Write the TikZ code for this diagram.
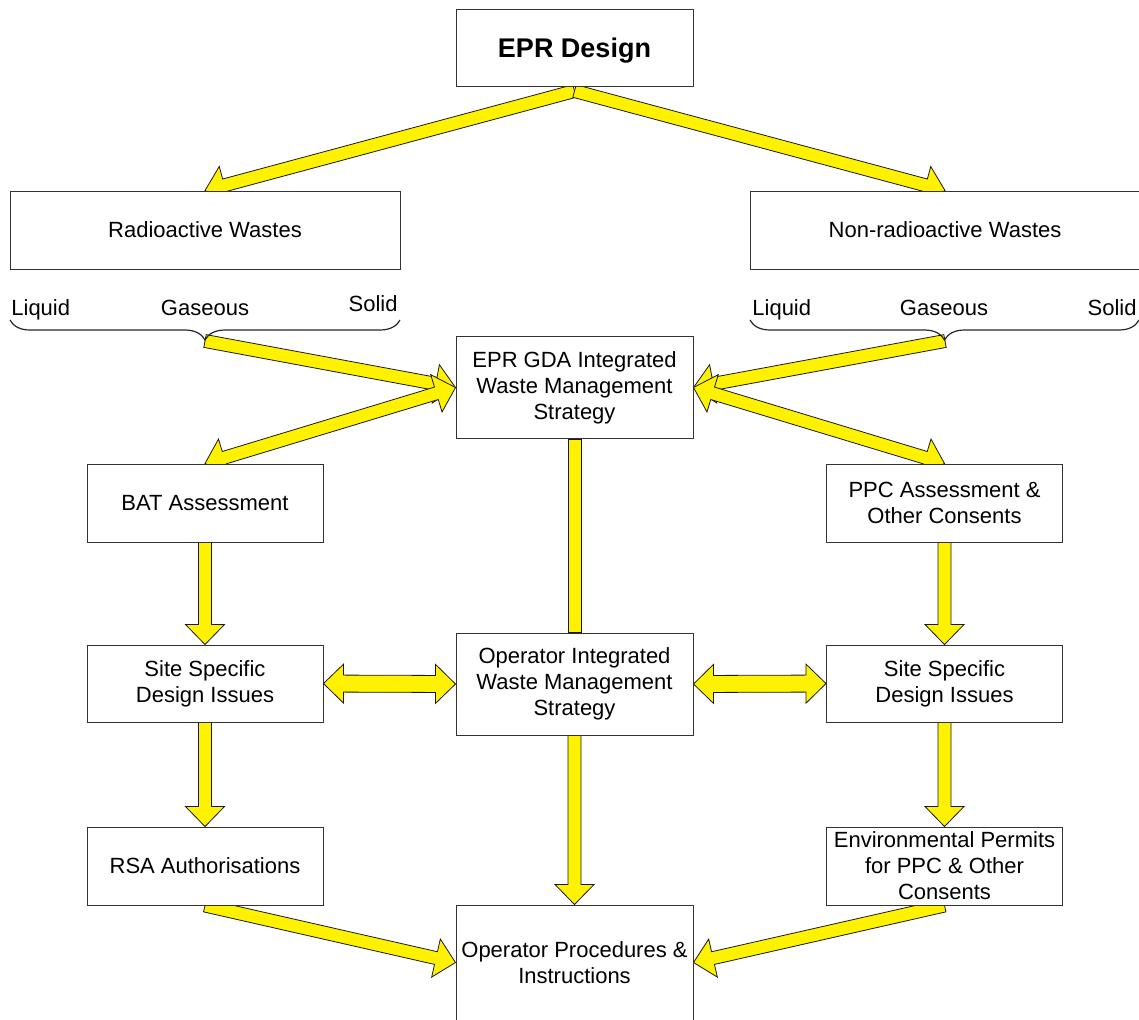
\documentclass[tikz,border=0pt]{standalone}
\usepackage{fontspec}
\setmainfont{Liberation Sans}
\usetikzlibrary{calc,backgrounds,decorations.pathreplacing}

\newcommand{\arrowframe}[2]{%
  \path let \p1=($(#2)-(#1)$), \n1={veclen(\x1,\y1)}, \n2={atan2(\y1,\x1)} in
    \pgfextra{\xdef\arrlen{\n1}\xdef\arrang{\n2}};}
\newcommand{\onehead}[3][3.25pt]{%
  \arrowframe{#2}{#3}%
  \draw[yarrow, shift={(#2)}, rotate=\arrang]
    (0pt,#1) -- ({\arrlen-10pt},#1) -- ({\arrlen-10pt},9.75pt) -- (\arrlen,0pt)
    -- ({\arrlen-10pt},-9.75pt) -- ({\arrlen-10pt},-#1) -- (0pt,-#1) -- cycle;}
\newcommand{\twohead}[3][3.25pt]{%
  \arrowframe{#2}{#3}%
  \draw[yarrow, shift={(#2)}, rotate=\arrang]
    (0pt,0pt) -- (10pt,9.75pt) -- (10pt,#1) -- ({\arrlen-10pt},#1) -- ({\arrlen-10pt},9.75pt)
    -- (\arrlen,0pt) -- ({\arrlen-10pt},-9.75pt) -- ({\arrlen-10pt},-#1) -- (10pt,-#1)
    -- (10pt,-9.75pt) -- cycle;}
\newcommand{\nohead}[3][3.25pt]{%
  \arrowframe{#2}{#3}%
  \draw[yarrow, shift={(#2)}, rotate=\arrang]
    (0pt,#1) -- (\arrlen,#1) -- (\arrlen,-#1) -- (0pt,-#1) -- cycle;}

\begin{document}
\begin{tikzpicture}
[
x=0.5pt, y=-0.5pt,
box/.style={draw=black!80, fill=white, line width=0.5pt, align=center, inner sep=0pt,
  font=\fontsize{11}{13}\selectfont, minimum width=118pt, minimum height=39pt},
tallbox/.style={box, minimum height=51pt},
lbl/.style={inner sep=0pt, font=\fontsize{11}{13}\selectfont},
bracket/.style={draw=black!85, line width=0.6pt, decorate, decoration={brace, mirror, amplitude=10pt}}
]
\tikzset{yarrow/.style={draw=black!90, fill=yellow, line width=0.4pt, line join=miter}}
\useasboundingbox (0,0) rectangle (1139,1019);
\clip (0,0) rectangle (1139,1019);

\node[box, font=\fontsize{13.5}{16}\selectfont\bfseries, text depth=0pt, minimum width=118.5pt, minimum height=38.5pt] (epr) at (574.5,47.5) {EPR Design};
\node[box, minimum width=195pt] (rad) at (205,230) {Radioactive Wastes};
\node[box, minimum width=195pt] (nonrad) at (945,230) {Non-radioactive Wastes};

\node[lbl, anchor=base west] (lliquid) at (11,315) {Liquid};
\node[lbl, anchor=base] (lgaseous) at (205,315) {Gaseous};
\node[lbl, anchor=base east] (lsolid) at (398,311) {Solid};
\node[lbl, anchor=base west] (rliquid) at (752,315) {Liquid};
\node[lbl, anchor=base] (rgaseous) at (944,315) {Gaseous};
\node[lbl, anchor=base east] (rsolid) at (1137,315) {Solid};
\draw[bracket] (10,320) -- (400,320);
\draw[bracket] (750,320) -- (1139,320);
\coordinate (ltip) at (205,341);
\coordinate (rtip) at (945,341);
\coordinate (eprfoot) at (574.5,91);

\node[tallbox, minimum width=118.5pt] (gda) at (574.5,387.5) {EPR GDA Integrated\\Waste Management\\Strategy};
\node[box] (bat) at (205,503) {BAT Assessment};
\node[box] (ppc) at (944.5,503) {PPC Assessment \&\\Other Consents};
\node[box, minimum height=38.5pt] (siteL) at (205,683.5) {Site Specific\\Design Issues};
\node[tallbox, minimum width=118.5pt] (opint) at (574.5,684) {Operator Integrated\\Waste Management\\Strategy};
\node[box, minimum height=38.5pt] (siteR) at (944.5,683.5) {Site Specific\\Design Issues};
\node[box] (rsa) at (205,866) {RSA Authorisations};
\node[box] (env) at (944.5,866) {Environmental Permits\\for PPC \& Other\\Consents};
\node[box, minimum width=118.5pt, minimum height=57.5pt] (opproc) at (574.5,962.5) {Operator Procedures \&\\Instructions};

\begin{scope}[on background layer]
\onehead{eprfoot}{rad.north}
\onehead{eprfoot}{nonrad.north}
\onehead{ltip}{gda.west}
\onehead{rtip}{gda.east}
\twohead{gda.west}{bat.north}
\twohead{gda.east}{ppc.north}
\nohead{gda.south}{opint.north}
\onehead{bat.south}{siteL.north}
\onehead{ppc.south}{siteR.north}
\twohead[4.25pt]{siteL.east}{opint.west}
\twohead[4.25pt]{opint.east}{siteR.west}
\onehead{siteL.south}{rsa.north}
\onehead{siteR.south}{env.north}
\onehead{opint.south}{opproc.north}
\onehead{rsa.south}{opproc.west}
\onehead{env.south}{opproc.east}
\end{scope}
\end{tikzpicture}
\end{document}
